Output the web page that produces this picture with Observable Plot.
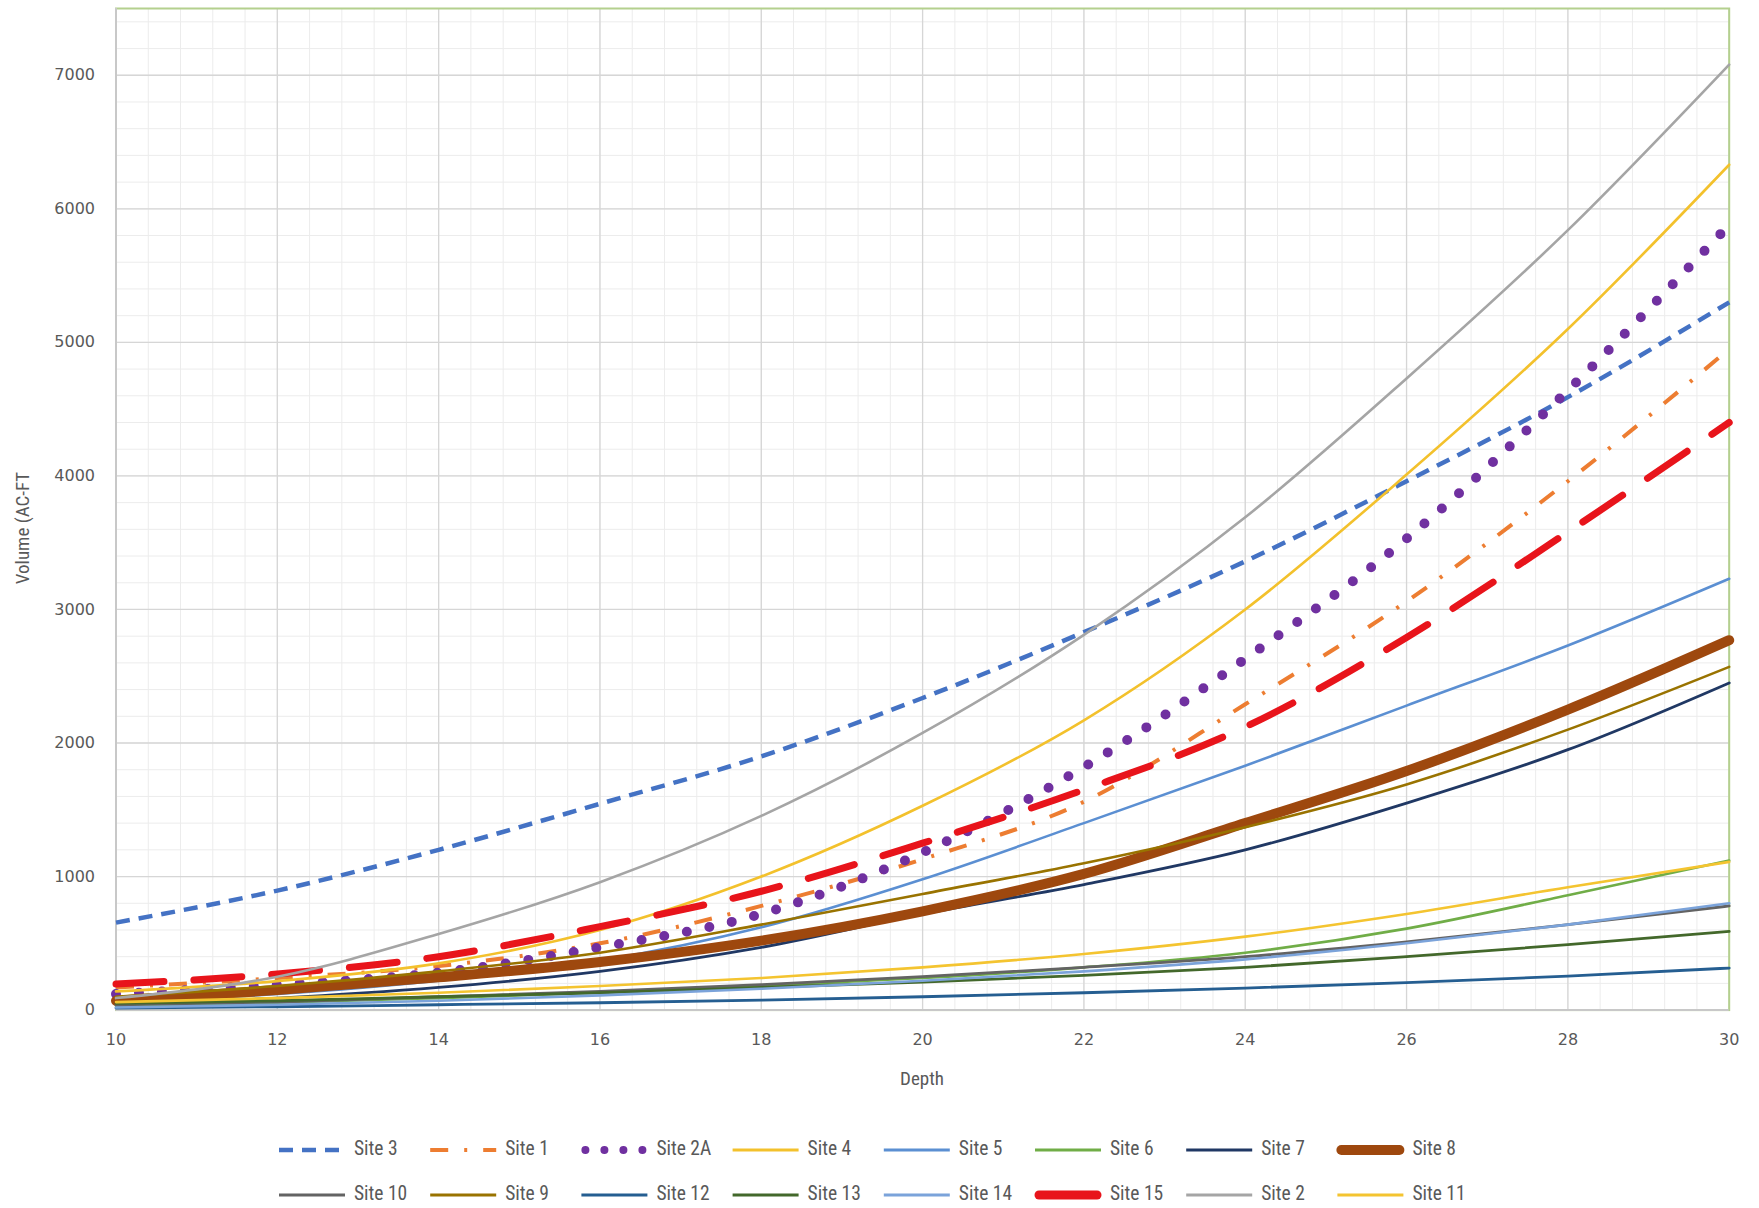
<!DOCTYPE html>
<html>
<head>
<meta charset="utf-8">
<script src="https://cdn.jsdelivr.net/npm/d3@7"></script>
<script src="https://cdn.jsdelivr.net/npm/@observablehq/plot@0.6"></script>
<style>
  html, body { margin: 0; padding: 0; background: #ffffff; }
  #chart svg { display: block; }
</style>
</head>
<body>
<div id="chart"></div>
<script>
// ---------- data ----------
const depth = [10, 12, 14, 16, 18, 20, 22, 24, 26, 28, 30];

const site3  = [655, 895, 1200, 1545, 1900, 2337, 2830, 3360, 3960, 4590, 5300];
const site1  = [170, 240, 330, 500, 780, 1130, 1560, 2290, 3060, 3960, 4950];
const site2A = [120, 190, 280, 470, 720, 1180, 1820, 2630, 3530, 4640, 5880];
const site4  = [140, 217, 350, 600, 1000, 1530, 2170, 3000, 4010, 5100, 6330];
const site5  = [60, 120, 220, 370, 620, 980, 1400, 1830, 2280, 2730, 3230];
const site6  = [30, 55, 90, 130, 180, 240, 320, 430, 610, 860, 1120];
const site7  = [40, 90, 170, 290, 470, 720, 940, 1200, 1550, 1950, 2450];
const site8  = [70, 150, 245, 360, 520, 740, 1020, 1400, 1790, 2250, 2770];
const site10 = [40, 60, 100, 140, 190, 250, 320, 400, 510, 640, 780];
const site9  = [100, 180, 290, 430, 640, 870, 1100, 1370, 1690, 2100, 2570];
const site12 = [15, 25, 40, 55, 75, 100, 130, 165, 205, 255, 315];
const site13 = [50, 70, 100, 130, 170, 210, 260, 320, 400, 490, 590];
const site14 = [20, 40, 70, 110, 160, 220, 290, 380, 500, 640, 800];
const site15 = [195, 270, 400, 625, 890, 1250, 1650, 2120, 2790, 3580, 4400];
const site2  = [90, 250, 570, 958, 1454, 2075, 2810, 3690, 4730, 5840, 7080];
const site11 = [60, 90, 130, 180, 240, 320, 420, 550, 720, 920, 1110];

const seriesNames = ["Site 3", "Site 1", "Site 2A", "Site 4", "Site 5", "Site 6", "Site 7", "Site 8",
                     "Site 10", "Site 9", "Site 12", "Site 13", "Site 14", "Site 15", "Site 2", "Site 11"];
const seriesValues = [site3, site1, site2A, site4, site5, site6, site7, site8,
                      site10, site9, site12, site13, site14, site15, site2, site11];

const yTicks = [0, 1000, 2000, 3000, 4000, 5000, 6000, 7000];
const xTicks = [10, 12, 14, 16, 18, 20, 22, 24, 26, 28, 30];

// ---------- styles ----------
const styles = {
  "Site 3":  {stroke: "#4472C4", w: 4.5, dash: "14,9", cap: "butt"},
  "Site 1":  {stroke: "#ED7D31", w: 4,   dash: "18,16,3,16", cap: "butt"},
  "Site 2A": {stroke: "#7030A0", w: 10,  dash: "0,23", cap: "round"},
  "Site 4":  {stroke: "#F3C12C", w: 2.6, dash: null, cap: "round"},
  "Site 5":  {stroke: "#5B8FD2", w: 2.6, dash: null, cap: "round"},
  "Site 6":  {stroke: "#70AD47", w: 2.6, dash: null, cap: "round"},
  "Site 7":  {stroke: "#203864", w: 2.8, dash: null, cap: "round"},
  "Site 8":  {stroke: "#9E480E", w: 10,  dash: null, cap: "round"},
  "Site 10": {stroke: "#636363", w: 2.8, dash: null, cap: "round"},
  "Site 9":  {stroke: "#997300", w: 2.6, dash: null, cap: "round"},
  "Site 12": {stroke: "#255E91", w: 2.8, dash: null, cap: "round"},
  "Site 13": {stroke: "#43682B", w: 2.8, dash: null, cap: "round"},
  "Site 14": {stroke: "#7BA3DA", w: 2.6, dash: null, cap: "round"},
  "Site 15": {stroke: "#E8141B", w: 7,   dash: "48,30", cap: "round"},
  "Site 2":  {stroke: "#A5A5A5", w: 2.6, dash: null, cap: "round"},
  "Site 11": {stroke: "#F4C430", w: 2.6, dash: null, cap: "round"}
};

const rows = [];
seriesNames.forEach((name, i) => {
  seriesValues[i].forEach((v, j) => rows.push({series: name, depth: depth[j], volume: v}));
});

// grid positions
const xMinor = d3.range(0, 51).map(i => 10 + i * 0.4);
const yMinor = d3.range(0, 38).map(i => i * 200);

const W = 1759, H = 1100;
const lineMarks = seriesNames.map(name => {
  const s = styles[name];
  const o = {
    x: "depth", y: "volume",
    stroke: s.stroke, strokeWidth: s.w,
    strokeLinecap: s.cap, strokeLinejoin: "round",
    curve: "monotone-x"
  };
  if (s.dash) o.strokeDasharray = s.dash;
  return Plot.line(rows.filter(r => r.series === name), o);
});

const tickFont = "'DejaVu Sans', sans-serif";
const chart = Plot.plot({
  width: W, height: H,
  marginLeft: 115.5, marginRight: 30.3, marginTop: 8, marginBottom: 90.4,
  style: {background: "#ffffff", fontFamily: tickFont},
  x: {domain: [10, 30], ticks: xTicks, label: null},
  y: {domain: [0, 7500], ticks: yTicks, label: null},
  marks: [
    Plot.ruleX(xMinor, {stroke: "#ECECEC", strokeWidth: 1}),
    Plot.ruleY(yMinor, {stroke: "#ECECEC", strokeWidth: 1}),
    Plot.ruleX(xTicks, {stroke: "#D6D6D6", strokeWidth: 1.3}),
    Plot.ruleY(yTicks, {stroke: "#D6D6D6", strokeWidth: 1.3}),
    Plot.frame({stroke: "#B4D08E", strokeWidth: 2}),
    Plot.ruleX([10], {stroke: "#C8C8C8", strokeWidth: 2}),
    Plot.ruleY([0], {stroke: "#C8C8C8", strokeWidth: 2}),
    ...lineMarks,
    Plot.axisX({ticks: xTicks, tickFormat: d => String(d), tickSize: 0, tickPadding: 24, fontSize: 16, fill: "#595959", label: null}),
    Plot.axisY({ticks: yTicks, tickFormat: d => String(d), tickSize: 0, tickPadding: 21, fontSize: 16, fill: "#595959", label: null})
  ]
});

const svg = d3.select(chart);
const labelFont = "'Liberation Sans Narrow', 'Roboto Condensed', 'Open Sans', sans-serif";
svg.append("text")
  .attr("transform", "translate(24,528) rotate(-90)")
  .attr("text-anchor", "middle").attr("dominant-baseline", "middle")
  .attr("font-family", labelFont).attr("font-size", 19).attr("fill", "#595959")
  .text("Volume (AC-FT");
svg.append("text")
  .attr("x", 922).attr("y", 1080)
  .attr("text-anchor", "middle").attr("dominant-baseline", "middle")
  .attr("font-family", labelFont).attr("font-size", 19).attr("fill", "#595959")
  .text("Depth");

document.getElementById("chart").appendChild(chart);

// ---------- legend ----------
const legend = d3.select("#chart").append("svg")
  .attr("width", W).attr("height", 108)
  .style("display", "block")
  .attr("font-family", labelFont);

const legendSwatch = {
  "Site 3":  {w: 4.5, dash: "14,9", cap: "butt"},
  "Site 1":  {w: 4,   dash: "18,16,3,16", cap: "butt"},
  "Site 2A": {w: 8,   dash: "0,19", cap: "round"},
  "Site 8":  {w: 10,  dash: null, cap: "round"},
  "Site 15": {w: 9,   dash: null, cap: "round"}
};

seriesNames.forEach((name, i) => {
  const row = Math.floor(i / 8), col = i % 8;
  const x0 = 279 + col * 151.2;
  const yc = row === 0 ? 50 : 95;
  const s = styles[name];
  const ls = legendSwatch[name] || {w: 3, dash: null, cap: "butt"};
  const g = legend.append("g");
  const startOff = name === "Site 2A" ? 4 : (ls.cap === "round" && ls.w > 5 ? 4 : 0);
  const ln = g.append("line")
    .attr("x1", x0 + startOff).attr("x2", x0 + 66 - startOff)
    .attr("y1", yc).attr("y2", yc)
    .attr("stroke", s.stroke).attr("stroke-width", ls.w)
    .attr("stroke-linecap", ls.cap);
  if (ls.dash) ln.attr("stroke-dasharray", ls.dash);
  g.append("text")
    .attr("x", x0 + 75).attr("y", yc)
    .attr("dominant-baseline", "middle")
    .attr("font-size", 19.5).attr("fill", "#595959")
    .text(name);
});
</script>
</body>
</html>
